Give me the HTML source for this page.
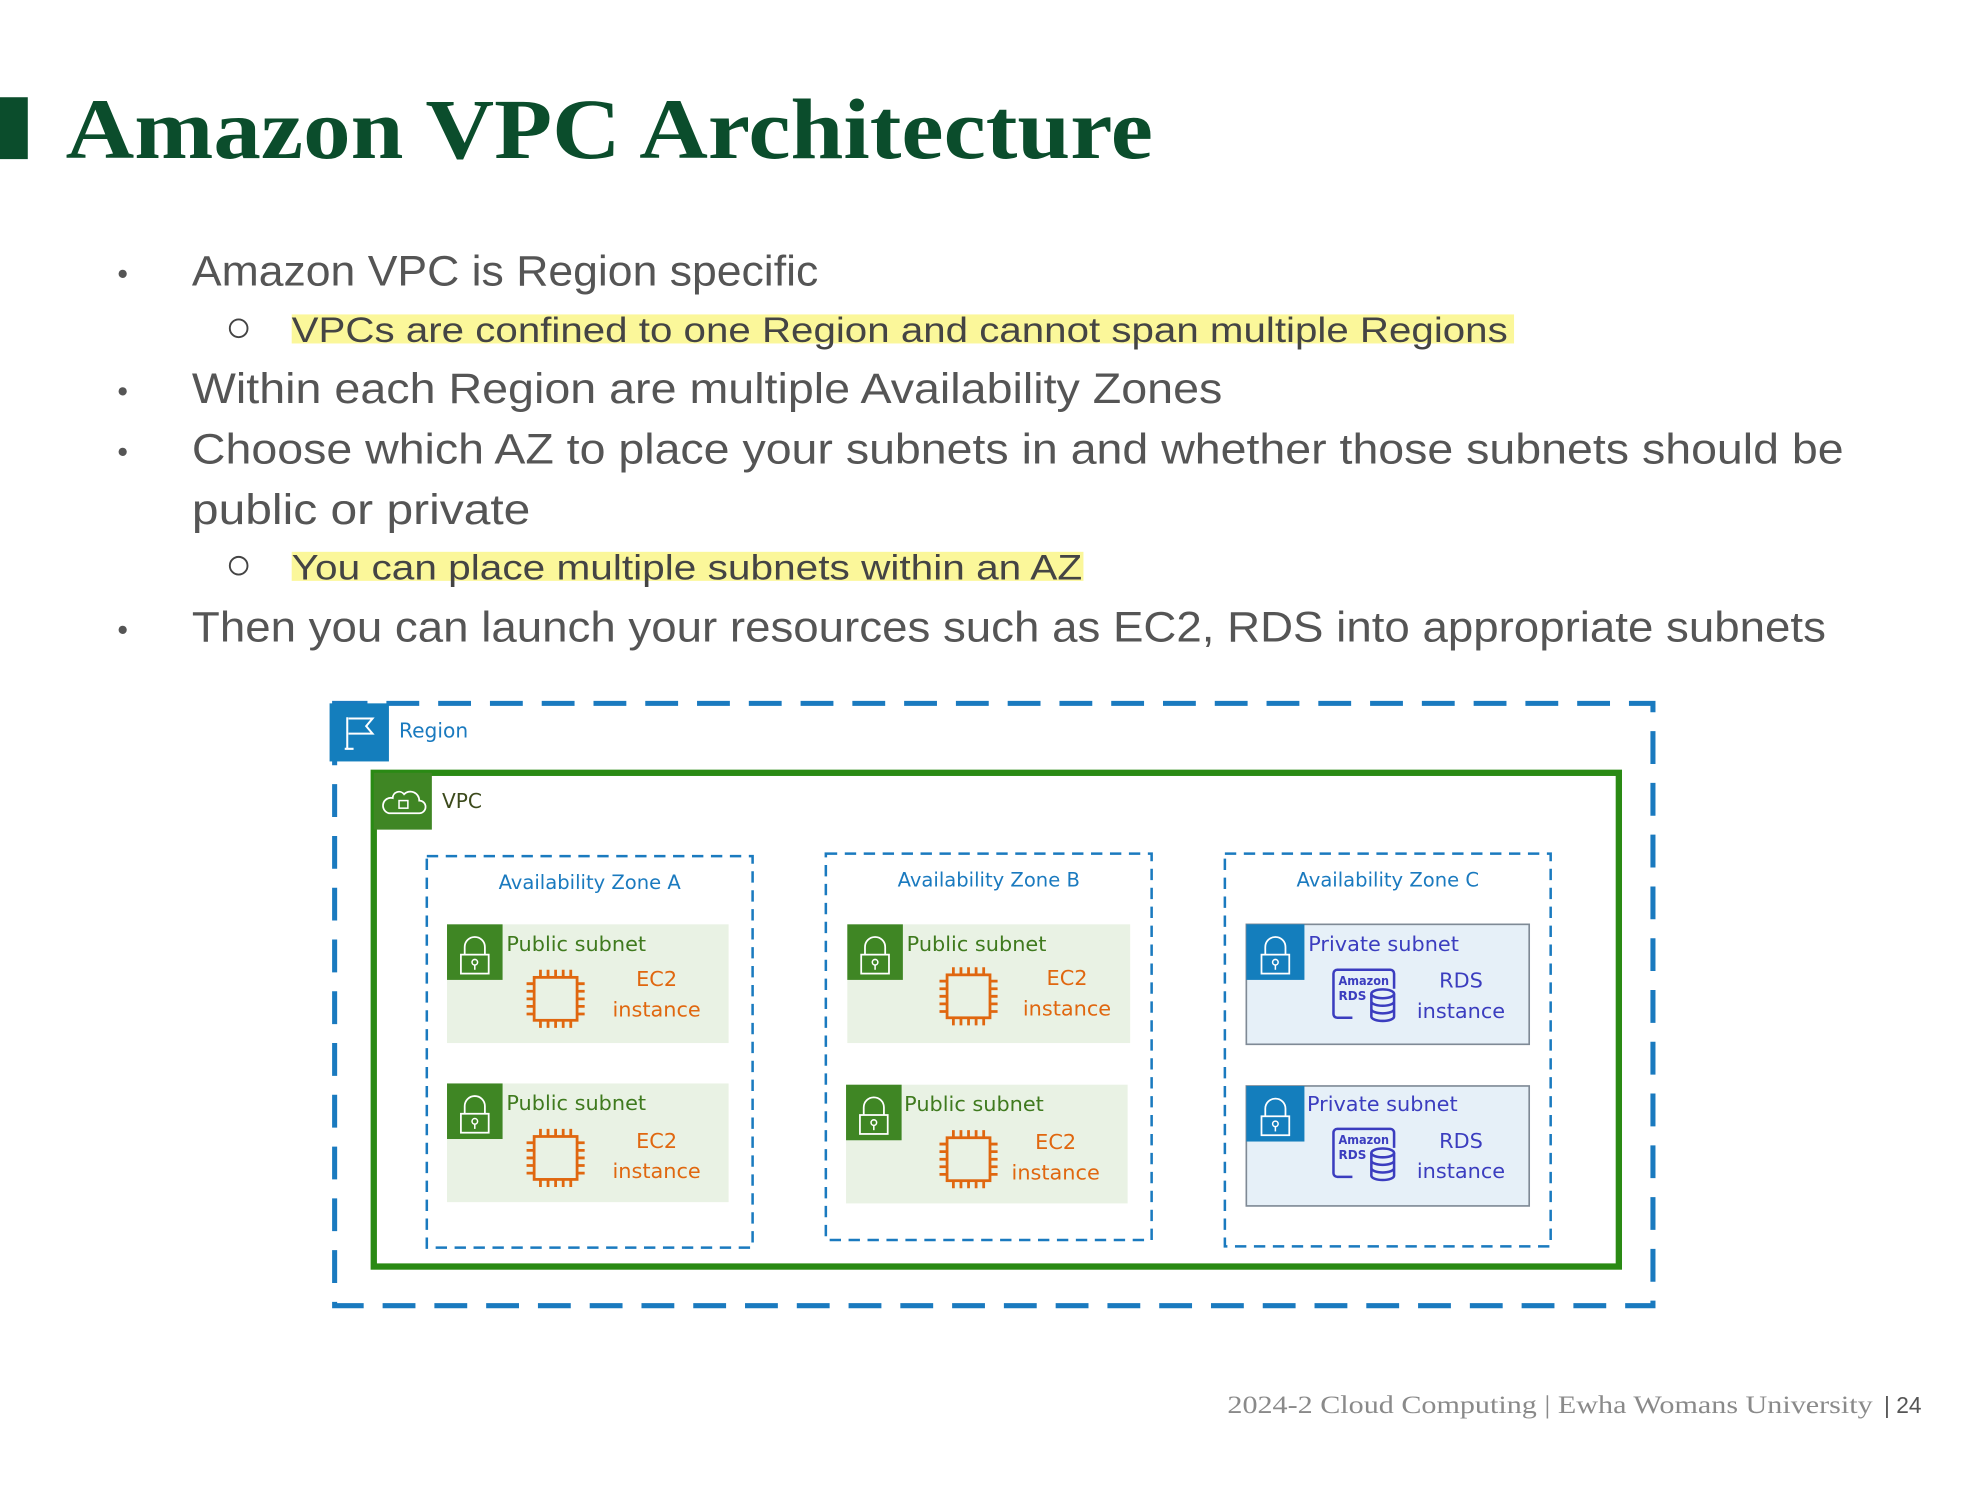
<!DOCTYPE html>
<html><head><meta charset="utf-8"><style>html,body{margin:0;padding:0;background:#fff}svg{display:block}</style></head>
<body>
<svg width="1980" height="1485" viewBox="0 0 1568 1176" preserveAspectRatio="none" xmlns="http://www.w3.org/2000/svg">
<rect width="1568" height="1176" fill="#fff"/>
<rect x="0" y="77" width="22" height="49" fill="#0b4d2c"/>
<text x="52" y="125" font-family="Liberation Serif, serif" font-weight="bold" font-size="68" fill="#0b4d2c" textLength="861" lengthAdjust="spacingAndGlyphs">Amazon VPC Architecture</text>

<g font-family="Liberation Sans, sans-serif" fill="#555" font-size="34">
<text x="93" y="225" font-size="24">•</text>
<text x="152" y="226" textLength="496" lengthAdjust="spacingAndGlyphs">Amazon VPC is Region specific</text>
<text x="93" y="318" font-size="24">•</text>
<text x="152" y="319" textLength="816" lengthAdjust="spacingAndGlyphs">Within each Region are multiple Availability Zones</text>
<text x="93" y="366" font-size="24">•</text>
<text x="152" y="367" textLength="1308" lengthAdjust="spacingAndGlyphs">Choose which AZ to place your subnets in and whether those subnets should be</text>
<text x="152" y="415" textLength="268" lengthAdjust="spacingAndGlyphs">public or private</text>
<text x="93" y="507" font-size="24">•</text>
<text x="152" y="508" textLength="1294" lengthAdjust="spacingAndGlyphs">Then you can launch your resources such as EC2, RDS into appropriate subnets</text>
</g>
<rect x="231" y="249" width="968" height="23" fill="#fbf79a"/>
<rect x="231" y="437" width="627" height="23" fill="#fbf79a"/>
<g font-family="Liberation Sans, sans-serif" fill="#444" font-size="28">
<circle cx="189" cy="260" r="7" fill="none" stroke="#444" stroke-width="1.5"/>
<text x="231" y="271" textLength="963" lengthAdjust="spacingAndGlyphs">VPCs are confined to one Region and cannot span multiple Regions</text>
<circle cx="189" cy="448" r="7" fill="none" stroke="#444" stroke-width="1.5"/>
<text x="231" y="459" textLength="626" lengthAdjust="spacingAndGlyphs">You can place multiple subnets within an AZ</text>
</g>

<!-- Region -->
<rect x="265" y="557" width="1044" height="477" fill="none" stroke="#1a7abf" stroke-width="4" stroke-dasharray="26,15"/>
<rect x="261" y="557" width="47" height="46" fill="#147ebd"/>
<path d="M275 593 V568 M273 593 h7 M276 569 h19 l-5 6 5 6 h-19" stroke="#fff" stroke-width="1.6" fill="none"/>
<text x="316" y="584" font-family="DejaVu Sans, sans-serif" font-size="16" fill="#1a7abf">Region</text>

<!-- VPC -->
<rect x="296" y="612" width="986" height="391" fill="none" stroke="#2a8a14" stroke-width="5"/>
<rect x="296" y="612" width="46" height="45" fill="#3f8624"/>
<path d="M308 644 h24 a5 5 0 0 0 0-10 a7 7 0 0 0-12-5 a5 5 0 0 0-9 3 a6 6 0 0 0-3 12z" fill="none" stroke="#fff" stroke-width="1.4"/>
<rect x="316" y="634" width="7" height="6" fill="none" stroke="#fff" stroke-width="1.2"/>
<text x="350" y="640" font-family="DejaVu Sans, sans-serif" font-size="16" fill="#3c4a1c">VPC</text>

<!-- AZs -->
<g fill="none" stroke="#1a7abf" stroke-width="2" stroke-dasharray="9,6">
<rect x="338" y="678" width="258" height="310"/>
<rect x="654" y="676" width="258" height="306"/>
<rect x="970" y="676" width="258" height="311"/>
</g>
<g font-family="DejaVu Sans, sans-serif" font-size="15.5" fill="#1a7abf" text-anchor="middle">
<text x="467" y="704">Availability Zone A</text>
<text x="783" y="702">Availability Zone B</text>
<text x="1099" y="702">Availability Zone C</text>
</g>

<defs>
<g id="lock">
<path d="M14 24 v-6 a8 8 0 0 1 16 0 v6" fill="none" stroke="#fff" stroke-width="1.4"/>
<rect x="11" y="24" width="22" height="15" fill="none" stroke="#fff" stroke-width="1.4"/>
<circle cx="22" cy="30" r="2.2" fill="none" stroke="#fff" stroke-width="1.2"/>
<path d="M22 32 v4" stroke="#fff" stroke-width="1.2"/>
</g>
<g id="chip" stroke="#e0670f" stroke-width="2.2" fill="none">
<rect x="-17" y="-17" width="34" height="34"/>
<path d="M-12 -17v-6M-6 -17v-6M0 -17v-6M6 -17v-6M12 -17v-6 M-12 17v6M-6 17v6M0 17v6M6 17v6M12 17v6 M-17 -12h-6M-17 -6h-6M-17 0h-6M-17 6h-6M-17 12h-6 M17 -12h6M17 -6h6M17 0h6M17 6h6M17 12h6"/>
</g>
<g id="rds">
<path d="M14 36 h-12 a3 3 0 0 1-3-3 v-32 a3 3 0 0 1 3-3 h42 a3 3 0 0 1 3 3 v12" fill="none" stroke="#3b3dbf" stroke-width="2"/>
<text x="3" y="10" font-family="DejaVu Sans, sans-serif" font-weight="bold" font-size="9.5" fill="#3b3dbf" textLength="40" lengthAdjust="spacingAndGlyphs">Amazon</text>
<text x="3" y="22" font-family="DejaVu Sans, sans-serif" font-weight="bold" font-size="9.5" fill="#3b3dbf">RDS</text>
<g fill="none" stroke="#3b3dbf" stroke-width="2">
<ellipse cx="38" cy="17" rx="9" ry="3.5"/>
<path d="M29 17 v18 a9 3.5 0 0 0 18 0 v-18 M29 23 a9 3.5 0 0 0 18 0 M29 29 a9 3.5 0 0 0 18 0"/>
</g>
</g>
</defs>

<g font-family="DejaVu Sans, sans-serif" font-size="16.5">
<rect x="354" y="732" width="223" height="94" fill="#e9f2e4"/>
<rect x="354" y="732" width="44" height="44" fill="#3f8624"/><use href="#lock" x="354" y="732"/>
<text x="401" y="753" fill="#3f7a1e">Public subnet</text>
<use href="#chip" x="440" y="791"/>
<text x="520" y="781" fill="#e0670f" text-anchor="middle">EC2</text>
<text x="520" y="805" fill="#e0670f" text-anchor="middle">instance</text>

<rect x="354" y="858" width="223" height="94" fill="#e9f2e4"/>
<rect x="354" y="858" width="44" height="44" fill="#3f8624"/><use href="#lock" x="354" y="858"/>
<text x="401" y="879" fill="#3f7a1e">Public subnet</text>
<use href="#chip" x="440" y="917"/>
<text x="520" y="909" fill="#e0670f" text-anchor="middle">EC2</text>
<text x="520" y="933" fill="#e0670f" text-anchor="middle">instance</text>

<rect x="671" y="732" width="224" height="94" fill="#e9f2e4"/>
<rect x="671" y="732" width="44" height="44" fill="#3f8624"/><use href="#lock" x="671" y="732"/>
<text x="718" y="753" fill="#3f7a1e">Public subnet</text>
<use href="#chip" x="767" y="789"/>
<text x="845" y="780" fill="#e0670f" text-anchor="middle">EC2</text>
<text x="845" y="804" fill="#e0670f" text-anchor="middle">instance</text>

<rect x="670" y="859" width="223" height="94" fill="#e9f2e4"/>
<rect x="670" y="859" width="44" height="44" fill="#3f8624"/><use href="#lock" x="670" y="859"/>
<text x="716" y="880" fill="#3f7a1e">Public subnet</text>
<use href="#chip" x="767" y="918"/>
<text x="836" y="910" fill="#e0670f" text-anchor="middle">EC2</text>
<text x="836" y="934" fill="#e0670f" text-anchor="middle">instance</text>

<rect x="987" y="732" width="224" height="95" fill="#e6f0f8" stroke="#7f8a96" stroke-width="1.3"/>
<rect x="987" y="732" width="46" height="44" fill="#147ebd"/><use href="#lock" x="988" y="732"/>
<text x="1036" y="753" fill="#3b3dbf">Private subnet</text>
<use href="#rds" x="1057" y="770"/>
<text x="1157" y="782" fill="#3b3dbf" text-anchor="middle">RDS</text>
<text x="1157" y="806" fill="#3b3dbf" text-anchor="middle">instance</text>

<rect x="987" y="860" width="224" height="95" fill="#e6f0f8" stroke="#7f8a96" stroke-width="1.3"/>
<rect x="987" y="860" width="46" height="44" fill="#147ebd"/><use href="#lock" x="988" y="860"/>
<text x="1035" y="880" fill="#3b3dbf">Private subnet</text>
<use href="#rds" x="1057" y="896"/>
<text x="1157" y="909" fill="#3b3dbf" text-anchor="middle">RDS</text>
<text x="1157" y="933" fill="#3b3dbf" text-anchor="middle">instance</text>
</g>

<text x="972" y="1119" font-family="Liberation Serif, serif" font-size="20" fill="#8a8a8a" textLength="511" lengthAdjust="spacingAndGlyphs">2024-2 Cloud Computing  |  Ewha Womans University</text>
<text x="1492" y="1119" font-family="Liberation Sans, sans-serif" font-size="18" fill="#555">| 24</text>
</svg>
</body></html>
